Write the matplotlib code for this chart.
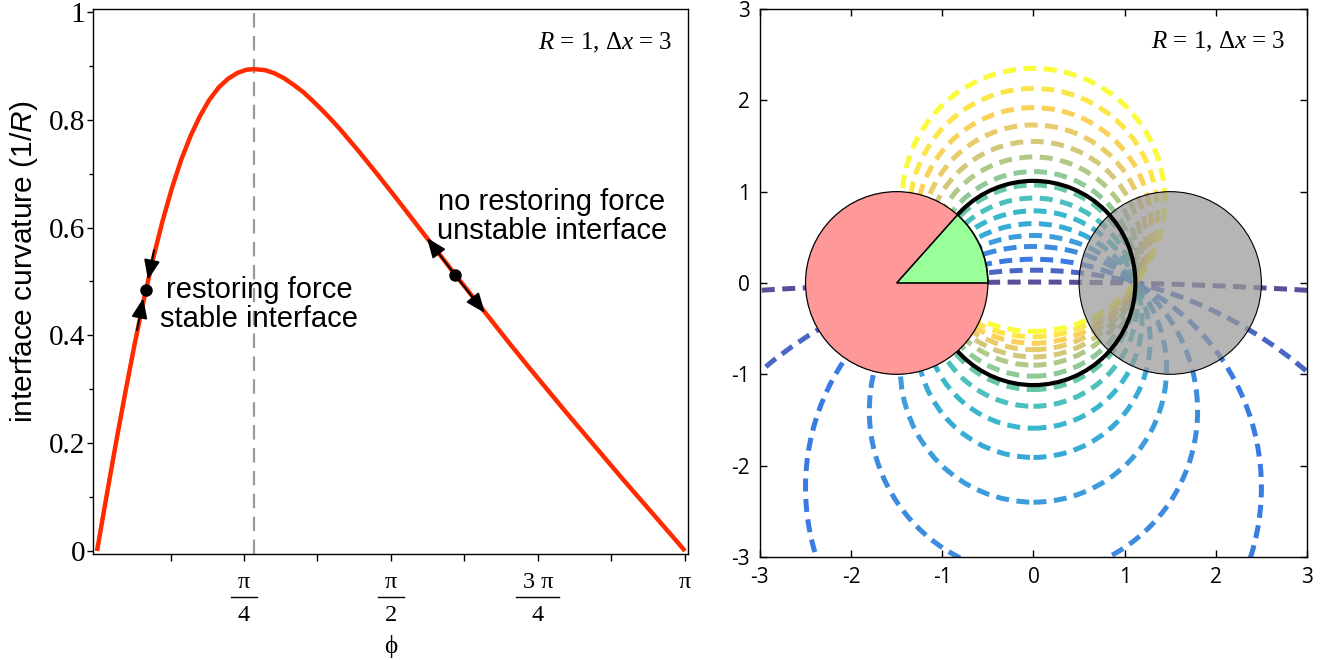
import numpy as np
import matplotlib
matplotlib.use('Agg')
import matplotlib.pyplot as plt
from matplotlib.patches import Circle, Wedge
from matplotlib.colors import LinearSegmentedColormap

plt.rcParams['axes.unicode_minus'] = False
plt.rcParams['mathtext.fontset'] = 'custom'
plt.rcParams['mathtext.rm'] = 'Liberation Serif'
plt.rcParams['mathtext.it'] = 'Liberation Serif:italic'
plt.rcParams['mathtext.sf'] = 'Liberation Sans:italic'

# left panel: curvature of the interface vs contact angle phi
phi = [0.0, 0.05, 0.1, 0.15, 0.2, 0.25, 0.3, 0.35, 0.4, 0.45, 0.5, 0.55, 0.6, 0.65,
       0.7, 0.75, 0.8, 0.841, 0.9, 0.95, 1.0, 1.05, 1.1, 1.15, 1.2, 1.25, 1.3, 1.4,
       1.5, 1.6, 1.7, 1.8, 1.9, 2.0, 2.1, 2.2, 2.3, 2.4, 2.5, 2.6, 2.7, 2.8, 2.9,
       3.0, 3.05, 3.1, 3.1416]
kappa = [0.0, 0.100, 0.198, 0.292, 0.382, 0.466, 0.543, 0.612, 0.673, 0.726, 0.770,
         0.807, 0.837, 0.860, 0.876, 0.887, 0.893, 0.894, 0.892, 0.886, 0.877,
         0.865, 0.852, 0.836, 0.819, 0.801, 0.782, 0.741, 0.698, 0.654, 0.609,
         0.564, 0.519, 0.475, 0.431, 0.387, 0.344, 0.302, 0.260, 0.219, 0.178,
         0.137, 0.097, 0.057, 0.037, 0.017, 0.0]
phi_peak = 0.841
stable_pt = (0.262, 0.485)
unstable_pt = (1.913, 0.512)
# arrows as (tail, tip)
stable_arrows = [((0.305, 0.558), (0.272, 0.503)), ((0.214, 0.410), (0.247, 0.469))]
unstable_arrows = [(unstable_pt, (1.763, 0.581)), (unstable_pt, (2.073, 0.4415))]

# right panel: interface circles, centres on the y axis (0, cy) with radius r
circle_cy = [-50.0, -4.47, -2.24, -1.40, -0.94, -0.63, -0.40, -0.21, -0.047,
             0.10, 0.24, 0.37, 0.50, 0.63, 0.77, 0.91]
circle_r = [50.01, 4.61, 2.50, 1.80, 1.46, 1.28, 1.19, 1.14, 1.12,
            1.12, 1.14, 1.18, 1.23, 1.29, 1.36, 1.44]
black_r = 1.118
left_drop = (-1.5, 0.0)
right_drop = (1.5, 0.0)
drop_r = 1.0
wedge_deg = 48.2

parula = LinearSegmentedColormap.from_list('parula', [
    '#352A87', '#0F5CDD', '#1481D6', '#06A4CA', '#2EB7A4',
    '#87BF77', '#D1BB59', '#FEC832', '#F9FB0E'])

fig = plt.figure(figsize=(13.23, 6.6), dpi=100)

# ---------------- left panel
ax = fig.add_axes([0.0703, 0.1606, 0.4497, 0.8258])
ax.axvline(phi_peak, color='#9a9a9a', lw=1.6, dashes=(6.5, 3.8), zorder=1)
ax.plot(phi, kappa, color='#ff2a00', lw=3.2, solid_capstyle='butt',
        solid_joinstyle='round', zorder=2)
for tail, tip in stable_arrows + unstable_arrows:
    ax.annotate('', xy=tip, xytext=tail,
                arrowprops=dict(arrowstyle='-|>,head_length=0.55,head_width=0.22',
                                color='k', lw=1.4, shrinkA=0, shrinkB=0,
                                mutation_scale=22), zorder=4)
ax.plot(*stable_pt, 'o', color='k', ms=8, zorder=5)
ax.plot(*unstable_pt, 'o', color='k', ms=8, zorder=5)

ax.set_xlim(-0.0214, 3.1576)
ax.set_ylim(-0.0056, 1.0056)
ax.set_yticks([0, 0.2, 0.4, 0.6, 0.8, 1.0])
ax.set_yticklabels(['0', '0.2', '0.4', '0.6', '0.8', '1'], family='Liberation Serif', fontsize=21)
ax.set_yticks([0.1, 0.3, 0.5, 0.7, 0.9], minor=True)
ax.set_xticks([np.pi / 4, np.pi / 2, 3 * np.pi / 4, np.pi])
ax.set_xticklabels([])
ax.set_xticks([np.pi / 8, 3 * np.pi / 8, 5 * np.pi / 8, 7 * np.pi / 8], minor=True)
ax.tick_params(axis='y', which='major', direction='out', length=4.5, width=1, pad=1)
ax.tick_params(axis='y', which='minor', direction='out', length=3, width=1)
ax.tick_params(axis='x', which='both', direction='out', length=5, width=1)
for s in ax.spines.values():
    s.set_linewidth(1.0)

# fraction tick labels
trans = ax.get_xaxis_transform()
fracs = [(np.pi / 4, 'π', '4', 0.07), (np.pi / 2, 'π', '2', 0.068), (3 * np.pi / 4, '3 π', '4', 0.115)]
for xv, num, den, hw in fracs:
    ax.text(xv, -0.0532, num, transform=trans, ha='center', va='center',
            family='Liberation Serif', fontsize=17.5)
    ax.plot([xv - hw, xv + hw], [-0.0789, -0.0789], transform=trans, color='k',
            lw=1.0, clip_on=False)
    ax.text(xv, -0.112, den, transform=trans, ha='center', va='center',
            family='Liberation Serif', fontsize=17.5)
ax.text(np.pi, -0.0532, 'π', transform=trans, ha='center', va='center',
        family='Liberation Serif', fontsize=17.5)
ax.text(np.pi / 2, -0.169, 'ϕ', transform=trans, ha='center', va='center',
        family=['Liberation Serif', 'DejaVu Serif'], fontsize=18)

ax.text(-0.116, 0.536, r'interface curvature (1/$\mathsf{R}$)', transform=ax.transAxes,
        rotation=90, ha='center', va='center', family='Liberation Sans', fontsize=21.5)
ax.text(0.973, 0.938, r'$R$ = 1, Δ$x$ = 3', transform=ax.transAxes, ha='right',
        va='center', family='Liberation Serif', fontsize=18)
ax.text(0.8655, 0.458, 'restoring force\nstable interface', ha='center', va='center',
        family='Liberation Sans', fontsize=21, linespacing=1.05)
ax.text(2.431, 0.62, 'no restoring force\nunstable interface', ha='center', va='center',
        family='Liberation Sans', fontsize=21, linespacing=1.05)

# ---------------- right panel
bx = fig.add_axes([0.5744, 0.1561, 0.4135, 0.8303])
cols = parula(np.linspace(0, 1, len(circle_cy)))
for cy, r, c in zip(circle_cy, circle_r, cols):
    bx.add_patch(Circle((0, cy), r, fill=False, edgecolor=c, lw=3.6, alpha=0.82,
                        linestyle=(0, (2.6, 1.5)), zorder=1))
bx.add_patch(Circle(right_drop, drop_r, facecolor='#999999', edgecolor='none',
                    alpha=0.72, zorder=2))
bx.add_patch(Circle(right_drop, drop_r, fill=False, edgecolor='k', lw=0.8, zorder=2))
bx.add_patch(Circle((0, 0), black_r, fill=False, edgecolor='k', lw=3.0, zorder=3))
bx.add_patch(Circle(left_drop, drop_r, facecolor='#ff9999', edgecolor='k', lw=0.9, zorder=4))
bx.add_patch(Wedge(left_drop, drop_r, 0, wedge_deg, facecolor='#99ff99', edgecolor='k',
                   lw=1.2, zorder=5))

bx.set_xlim(-3, 3)
bx.set_ylim(-3, 3)
bx.set_xticks(range(-3, 4))
bx.set_yticks(range(-3, 4))
bx.tick_params(which='both', direction='in', length=5, width=1, top=True, right=True,
               labelsize=15, pad=7)
for lab in bx.get_xticklabels() + bx.get_yticklabels():
    lab.set_family('Open Sans')
for s in bx.spines.values():
    s.set_linewidth(1.0)
bx.text(0.960, 0.94, r'$R$ = 1, Δ$x$ = 3', transform=bx.transAxes, ha='right',
        va='center', family='Liberation Serif', fontsize=18)

fig.savefig('out.png', dpi=100)
